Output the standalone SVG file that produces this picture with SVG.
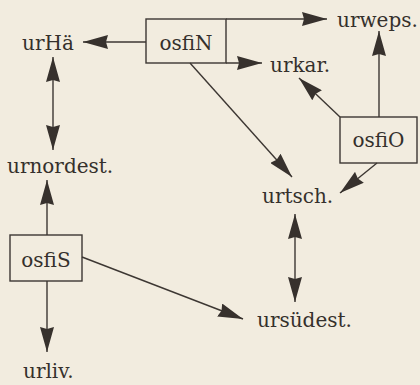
<svg xmlns="http://www.w3.org/2000/svg" width="420" height="385" viewBox="0 0 420 385">
  <defs>
    <style>
      .bg { fill: #f2ecdf; }
      .box { fill: none; stroke: #3d3733; stroke-width: 1.4; }
      .lbl { font-family: "DejaVu Serif", "Liberation Serif", serif; font-size: 20px; fill: #35302c; }
      .mid { text-anchor: middle; }
      .edge { fill: none; stroke: #3d3733; stroke-width: 1.4; marker-end: url(#ah); }
      .both { marker-start: url(#ah); }
    </style>
    <marker id="ah" viewBox="0 0 25 14" refX="25" refY="7" markerWidth="25" markerHeight="14" markerUnits="userSpaceOnUse" orient="auto-start-reverse">
      <path d="M0,0 L25,7 L0,14 L2,7 Z" fill="#37312d"/>
    </marker>
  </defs>

  <rect class="bg" x="0" y="0" width="420" height="385"/>

  <!-- connectors -->
  <g id="connectors">
    <line class="edge" x1="146" y1="42" x2="83" y2="42"/>
    <line class="edge" x1="226" y1="19" x2="327" y2="19"/>
    <line class="edge" x1="226" y1="63" x2="262" y2="63"/>
    <line class="edge" x1="190" y1="63" x2="292" y2="177"/>
    <line class="edge both" x1="53" y1="57" x2="53" y2="150"/>
    <line class="edge" x1="47" y1="235" x2="47" y2="180"/>
    <line class="edge" x1="47" y1="281" x2="47" y2="352"/>
    <line class="edge" x1="82" y1="257" x2="243" y2="319"/>
    <line class="edge" x1="379" y1="117" x2="379" y2="31"/>
    <line class="edge" x1="340" y1="117" x2="299" y2="78"/>
    <line class="edge" x1="377" y1="163" x2="340" y2="193"/>
    <line class="edge both" x1="295" y1="214" x2="295" y2="302"/>
  </g>

  <!-- boxed source nodes -->
  <g id="osfiN">
    <rect class="box" x="146" y="19" width="80" height="44"/>
    <text class="lbl mid" x="186" y="50">osfiN</text>
  </g>
  <g id="osfiO">
    <rect class="box" x="340" y="117" width="77" height="46"/>
    <text class="lbl mid" x="378.5" y="147">osfiO</text>
  </g>
  <g id="osfiS">
    <rect class="box" x="10" y="235" width="72" height="46"/>
    <text class="lbl mid" x="46" y="267">osfiS</text>
  </g>

  <!-- plain label nodes -->
  <g id="urHae"><text class="lbl" x="22" y="50">urHä</text></g>
  <g id="urweps"><text class="lbl" x="337" y="27">urweps.</text></g>
  <g id="urkar"><text class="lbl" x="270" y="72">urkar.</text></g>
  <g id="urnordest"><text class="lbl" x="7" y="173">urnordest.</text></g>
  <g id="urtsch"><text class="lbl" x="262" y="203">urtsch.</text></g>
  <g id="ursuedest"><text class="lbl" x="257" y="327">ursüdest.</text></g>
  <g id="urliv"><text class="lbl" x="23" y="378">urliv.</text></g>
</svg>
